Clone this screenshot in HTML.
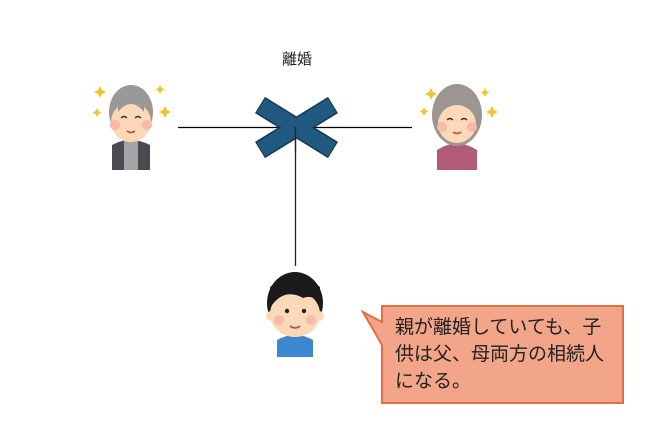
<!DOCTYPE html>
<html><head><meta charset="utf-8"><style>
body{margin:0;background:#fff;width:661px;height:432px;overflow:hidden;font-family:"Liberation Sans","Noto Sans CJK JP",sans-serif;}
</style></head><body>
<svg width="661" height="432" viewBox="0 0 661 432" xmlns="http://www.w3.org/2000/svg">
<text x="297" y="64" font-size="15" text-anchor="middle" fill="#222" font-family="Liberation Sans, Noto Sans CJK JP, sans-serif">離婚</text>
<line x1="178" y1="127.5" x2="412" y2="127.5" stroke="#000" stroke-width="1.3"/>
<line x1="295.5" y1="127" x2="295.5" y2="266" stroke="#222" stroke-width="1.3"/>
<g stroke-linecap="butt">
<line x1="260" y1="105" x2="333" y2="150" stroke="#163a55" stroke-width="19"/>
<line x1="260" y1="150" x2="333" y2="105" stroke="#163a55" stroke-width="19"/>
<line x1="261" y1="105.5" x2="332" y2="149.5" stroke="#215a80" stroke-width="16"/>
<line x1="261" y1="149.5" x2="332" y2="105.5" stroke="#215a80" stroke-width="16"/>
</g>
<line x1="295.5" y1="127" x2="295.5" y2="153" stroke="#222" stroke-width="1.3"/>
<g>
<path d="M112 170 L112 145 Q130 135 150 145 L150 170 Z" fill="#4a4a50"/>
<rect x="124" y="140" width="14" height="30" fill="#a3a3a8"/>
<ellipse cx="131" cy="112" rx="22" ry="27" fill="#9a9896"/>
<ellipse cx="131" cy="122" rx="20" ry="20" fill="#fbd9b8"/>
<circle cx="115" cy="125" r="5" fill="#f8b9a8"/><circle cx="147" cy="125" r="5" fill="#f8b9a8"/>
<path d="M118 112 Q131 96 144 112 L144 104 Q131 92 118 104Z" fill="#9a9896"/>
<path d="M121 118 q3 -3 6 0 M135 118 q3 -3 6 0" stroke="#333" fill="none" stroke-width="1.3"/>
<path d="M127 131 q4 3 8 0" stroke="#c0404a" fill="none" stroke-width="1.5"/>
<g fill="#f4c32a"><path d="M100 86 l2 4 4 2 -4 2 -2 4 -2 -4 -4 -2 4 -2z"/><path d="M160 85 l1.5 3 3 1.5 -3 1.5 -1.5 3 -1.5 -3 -3 -1.5 3 -1.5z"/><path d="M165 106 l2 4 4 2 -4 2 -2 4 -2 -4 -4 -2 4 -2z"/><path d="M97 108 l1.5 3 3 1.5 -3 1.5 -1.5 3 -1.5 -3 -3 -1.5 3 -1.5z"/></g>
</g>
<g>
<path d="M437 170 L437 150 Q457 137 477 150 L477 170 Z" fill="#b25a78"/>
<ellipse cx="457" cy="115" rx="25" ry="31" fill="#9c9590"/>
<ellipse cx="457" cy="124" rx="19" ry="19" fill="#fbd9b8"/>
<circle cx="442" cy="127" r="5" fill="#f8b9a8"/><circle cx="472" cy="127" r="5" fill="#f8b9a8"/>
<path d="M440 112 Q457 92 474 112 L474 104 Q457 88 440 104Z" fill="#9c9590"/>
<path d="M447 120 q3 -3 6 0 M461 120 q3 -3 6 0" stroke="#333" fill="none" stroke-width="1.3"/>
<path d="M453 132 q4 3 8 0" stroke="#c0404a" fill="none" stroke-width="1.5"/>
<g fill="#f4c32a"><path d="M431 88 l2 4 4 2 -4 2 -2 4 -2 -4 -4 -2 4 -2z"/><path d="M485 88 l1.5 3 3 1.5 -3 1.5 -1.5 3 -1.5 -3 -3 -1.5 3 -1.5z"/><path d="M492 106 l2 4 4 2 -4 2 -2 4 -2 -4 -4 -2 4 -2z"/><path d="M424 107 l1.5 3 3 1.5 -3 1.5 -1.5 3 -1.5 -3 -3 -1.5 3 -1.5z"/></g>
</g>
<g>
<path d="M277 357 L277 340 Q295 330 313 340 L313 357 Z" fill="#3c88d0"/>
<ellipse cx="295" cy="303" rx="28" ry="31" fill="#1a1a1a"/>
<ellipse cx="295" cy="314" rx="25" ry="23" fill="#fbd9b8"/>
<circle cx="271" cy="316" r="5" fill="#fbd9b8"/><circle cx="319" cy="316" r="5" fill="#fbd9b8"/>
<path d="M272 305 Q285 288 303 298 Q314 294 318 304 L320 287 Q295 268 270 287Z" fill="#1a1a1a"/>
<circle cx="279" cy="320" r="5" fill="#f8b9a8"/><circle cx="311" cy="320" r="5" fill="#f8b9a8"/>
<circle cx="287" cy="311" r="2.2" fill="#222"/><circle cx="304" cy="311" r="2.2" fill="#222"/>
<path d="M290 326 q5 4 10 0" stroke="#c0404a" fill="none" stroke-width="1.5"/>
</g>
<path d="M382 306 L623 306 L623 403 L382 403 L382 345 L363 312 L382 322 Z" fill="#f3a58a" stroke="#e0703f" stroke-width="2"/>
<g font-size="19" fill="#222" font-family="Liberation Sans, Noto Sans CJK JP, sans-serif">
<text x="395" y="333">親が離婚していても、子</text>
<text x="395" y="360">供は父、母両方の相続人</text>
<text x="395" y="387">になる。</text>
</g>
</svg>
</body></html>
